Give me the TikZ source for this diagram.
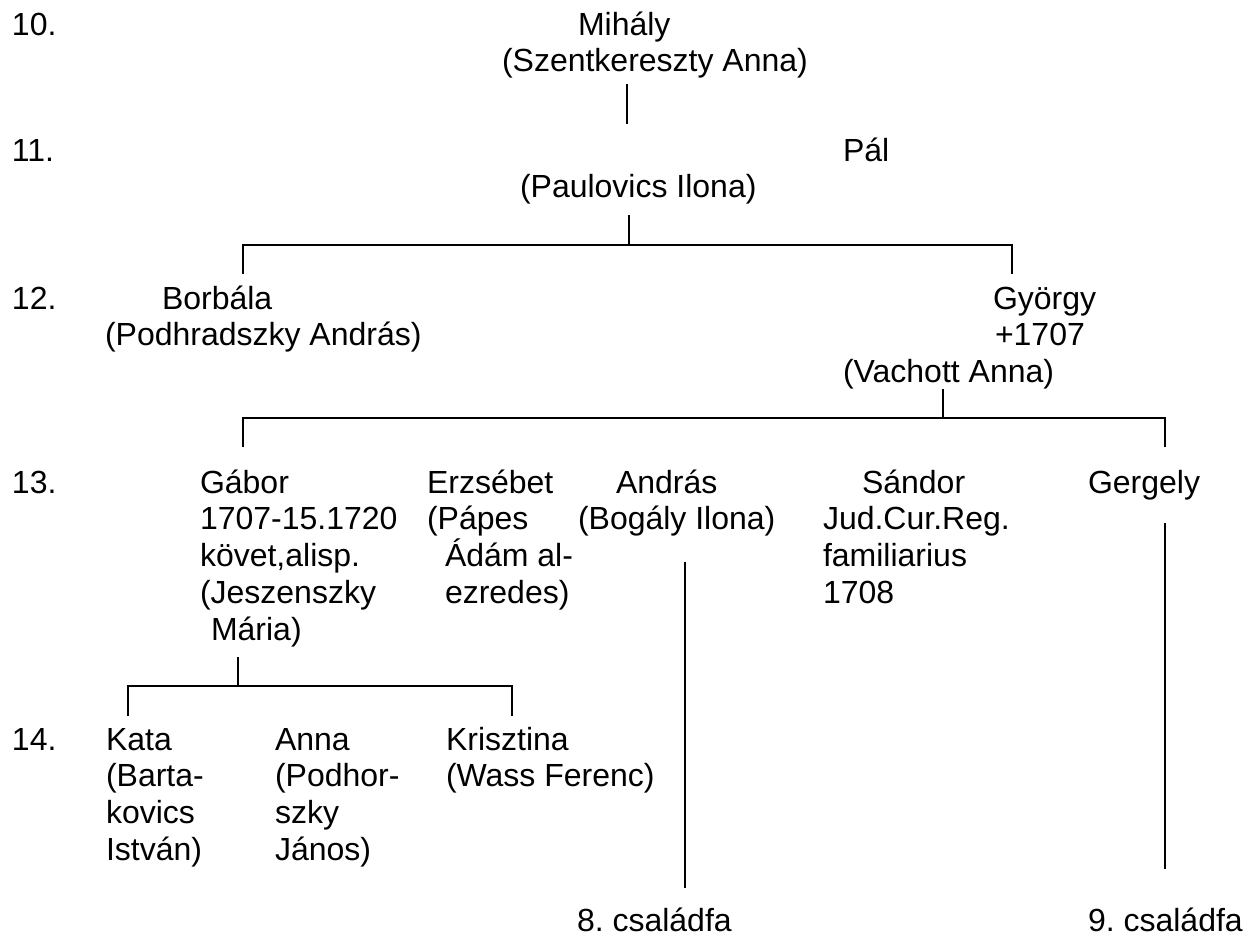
\documentclass[tikz,border=0pt]{standalone}
\usepackage{fontspec}
\setmainfont{Liberation Sans}
\frenchspacing
\newcommand{\topstrut}{\rule{0pt}{25.76pt}}
\begin{document}
\begin{tikzpicture}[x=1pt,y=-1pt,
  txt/.style={anchor=north west, inner sep=0pt, outer sep=0pt, align=left,
    font=\fontsize{32}{36.8}\selectfont, yshift=25.76pt},
  conn/.style={line width=2pt, line join=miter}]
\useasboundingbox (0,0) rectangle (1252,937);
% generation labels
\node[txt] (l10) at (12,35)  {\topstrut 10.};
\node[txt] (l11) at (12,161) {\topstrut 11.};
\node[txt] (l12) at (12,309) {\topstrut 12.};
\node[txt] (l13) at (12,493) {\topstrut 13.};
\node[txt] (l14) at (12,750) {\topstrut 14.};
% persons
\node[txt] (mihaly) at (502,35) {\topstrut\hspace*{76pt}Mihály\\(Szentkereszty Anna)};
\node[txt] (pal) at (520,161) {\topstrut\hspace*{323pt}Pál\\(Paulovics Ilona)};
\node[txt] (borbala) at (105,309) {\topstrut\hspace*{57pt}Borbála\\(Podhradszky András)};
\node[txt] (gyorgy) at (843,309) {\topstrut\hspace*{150pt}György\\\hspace*{152pt}+1707\\(Vachott Anna)};
\node[txt] (gabor) at (200,493) {\topstrut Gábor\\1707-15.1720\\követ,alisp.\\(Jeszenszky\\\hspace*{11pt}Mária)};
\node[txt] (erzsebet) at (427,493) {\topstrut Erzsébet\\(Pápes\\\hspace*{18pt}Ádám al-\\\hspace*{18pt}ezredes)};
\node[txt] (andras) at (578,493) {\topstrut\hspace*{38pt}András\\(Bogály Ilona)};
\node[txt] (sandor) at (823,493) {\topstrut\hspace*{39pt}Sándor\\Jud.Cur.Reg.\\familiarius\\1708};
\node[txt] (gergely) at (1088,493) {\topstrut Gergely};
\node[txt] (kata) at (106,750) {\topstrut Kata\\(Barta-\\kovics\\István)};
\node[txt] (anna) at (275,750) {\topstrut Anna\\(Podhor-\\szky\\János)};
\node[txt] (krisztina) at (446,750) {\topstrut Krisztina\\(Wass Ferenc)};
\node[txt] (f8) at (577,931) {\topstrut 8. családfa};
\node[txt] (f9) at (1088,931) {\topstrut 9. családfa};
% connector points
\coordinate (m1) at (627,84);  \coordinate (m2) at (627,124);
\coordinate (p1) at (629,215); \coordinate (p2) at (629,245);
\coordinate (pl) at (243,274); \coordinate (plt) at (243,245);
\coordinate (pr) at (1012,274); \coordinate (prt) at (1012,245);
\coordinate (g1) at (943,389); \coordinate (g2) at (943,418);
\coordinate (gl) at (243,447); \coordinate (glt) at (243,418);
\coordinate (gr) at (1165,447); \coordinate (grt) at (1165,418);
\coordinate (ga1) at (238,657); \coordinate (ga2) at (238,686);
\coordinate (kl) at (128,716); \coordinate (klt) at (128,686);
\coordinate (kr) at (512,716); \coordinate (krt) at (512,686);
\coordinate (a1) at (685,562); \coordinate (a2) at (685,888);
\coordinate (e1) at (1165,523); \coordinate (e2) at (1165,869);
% connectors
\draw[conn] (m1) -- (m2);
\draw[conn] (p1) -- (p2);
\draw[conn] (pl) -- (plt) -- (prt) -- (pr);
\draw[conn] (g1) -- (g2);
\draw[conn] (gl) -- (glt) -- (grt) -- (gr);
\draw[conn] (ga1) -- (ga2);
\draw[conn] (kl) -- (klt) -- (krt) -- (kr);
\draw[conn] (a1) -- (a2);
\draw[conn] (e1) -- (e2);
\end{tikzpicture}
\end{document}
